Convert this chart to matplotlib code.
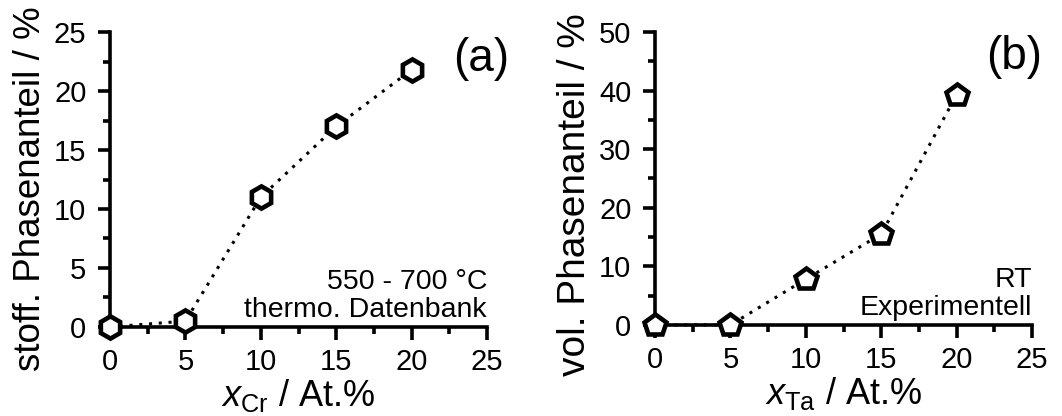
import matplotlib
matplotlib.use("Agg")
import matplotlib.pyplot as plt
from matplotlib.ticker import MultipleLocator

plt.rcParams["font.family"] = ["Liberation Sans", "DejaVu Sans"]
plt.rcParams["mathtext.fontset"] = "custom"
plt.rcParams["mathtext.it"] = "Liberation Sans:italic"
plt.rcParams["mathtext.rm"] = "Liberation Sans"

# panel (a): thermodynamic database
x_cr = [0, 5, 10, 15, 20]
phase_cr = [0.0, 0.5, 11.0, 17.0, 21.8]

# panel (b): experimental
x_ta = [0, 5, 10, 15, 20]
phase_ta = [0.0, 0.0, 7.8, 15.5, 39.3]

fig = plt.figure(figsize=(10.62, 4.16), dpi=100)
ax_a = fig.add_axes([0.1036, 0.214, 0.355, 0.709])
ax_b = fig.add_axes([0.6168, 0.219, 0.355, 0.704])


def style(ax, ymax, ymajor):
    for side in ("top", "right"):
        ax.spines[side].set_visible(False)
    for side in ("left", "bottom"):
        ax.spines[side].set_linewidth(2.6)
    ax.set_xlim(0, 25)
    ax.set_ylim(0, ymax)
    ax.xaxis.set_major_locator(MultipleLocator(5))
    ax.xaxis.set_minor_locator(MultipleLocator(2.5))
    ax.yaxis.set_major_locator(MultipleLocator(ymajor))
    ax.yaxis.set_minor_locator(MultipleLocator(ymajor / 2))
    ax.tick_params(which="major", direction="out", length=9, width=2.6, labelsize=21)
    ax.tick_params(which="minor", direction="out", length=5, width=2.6)
    ax.tick_params(axis="x", which="major", pad=6)
    ax.tick_params(axis="y", which="major", pad=8)


marker_kw = dict(color="black", linestyle=(0, (1, 2.2)), linewidth=2.2,
                 markersize=16, markerfacecolor="white", markeredgecolor="black",
                 markeredgewidth=3.3, clip_on=False, zorder=3)

ax_a.plot(x_cr, phase_cr, marker="h", **marker_kw)
style(ax_a, 25, 5)
ax_a.set_xlabel(r"$x_{\mathrm{Cr}}$ / At.%", fontsize=26, labelpad=1)
ax_a.set_ylabel("stoff. Phasenanteil / %", fontsize=26.5, labelpad=4)
ax_a.yaxis.label.set_y(0.47)
ax_a.text(0.985, 0.91, "(a)", transform=ax_a.transAxes, ha="center", va="center", fontsize=33)
ax_a.text(1.0, 0.015, "550 - 700 °C\nthermo. Datenbank", transform=ax_a.transAxes,
          ha="right", va="bottom", fontsize=20.5, linespacing=1.1)

ax_b.plot(x_ta, phase_ta, marker="p", **marker_kw)
style(ax_b, 50, 10)
ax_b.set_xlabel(r"$x_{\mathrm{Ta}}$ / At.%", fontsize=26, labelpad=1)
ax_b.set_ylabel("vol. Phasenanteil / %", fontsize=28, labelpad=4)
ax_b.yaxis.label.set_y(0.445)
ax_b.text(0.952, 0.915, "(b)", transform=ax_b.transAxes, ha="center", va="center", fontsize=33)
ax_b.text(1.0, 0.015, "RT\nExperimentell", transform=ax_b.transAxes,
          ha="right", va="bottom", fontsize=20.5, linespacing=1.1)

fig.savefig("out.png", dpi=100)
